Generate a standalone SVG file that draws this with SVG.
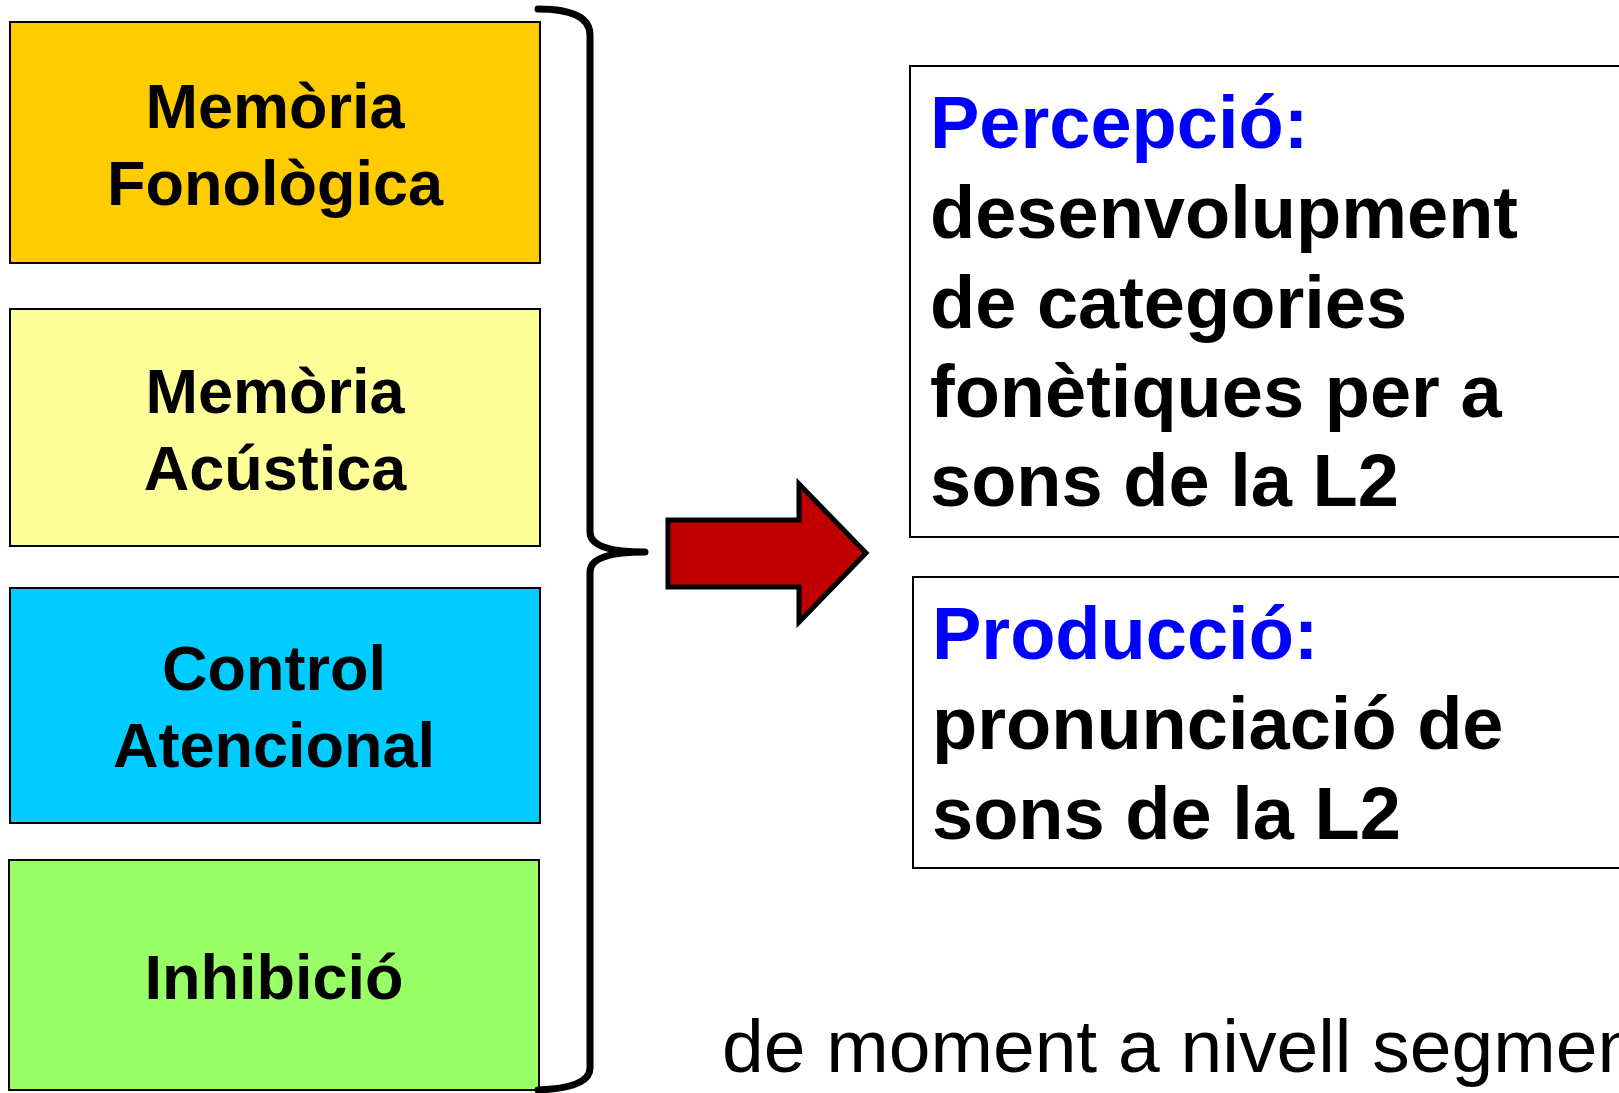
<svg xmlns="http://www.w3.org/2000/svg" width="1619" height="1093" viewBox="0 0 1619 1093">
<style>
.box{stroke:#000;stroke-width:2}
.lbl{font-family:"Liberation Sans",Arial,sans-serif;font-weight:bold;font-size:63px;fill:#000;text-anchor:middle}
.rt{font-family:"Liberation Sans",Arial,sans-serif;font-weight:bold;font-size:74px;fill:#000}
.hd{fill:#0000FF}
.note{font-family:"Liberation Sans",Arial,sans-serif;font-size:75px;fill:#000}
</style>
<rect width="1619" height="1093" fill="#fff"/>
<g id="memoria-fonologica">
<rect class="box" x="10" y="22" width="530" height="241" fill="#FFCC00"/>
<text class="lbl" x="275" y="128">Memòria</text>
<text class="lbl" x="275" y="205">Fonològica</text>
</g>
<g id="memoria-acustica">
<rect class="box" x="10" y="309" width="530" height="237" fill="#FFFF99"/>
<text class="lbl" x="275" y="413">Memòria</text>
<text class="lbl" x="275" y="490">Acústica</text>
</g>
<g id="control-atencional">
<rect class="box" x="10" y="588" width="530" height="235" fill="#00CCFF"/>
<text class="lbl" x="274" y="690">Control</text>
<text class="lbl" x="274" y="767">Atencional</text>
</g>
<g id="inhibicio">
<rect class="box" x="9" y="860" width="530" height="230" fill="#99FF66"/>
<text class="lbl" x="274" y="999">Inhibició</text>
</g>
<g id="connectors">
<path d="M538,9 Q590,9 590,35 L590,532 Q590,552 645,552 Q590,552 590,572 L590,1068 Q590,1088 538,1090" fill="none" stroke="#000" stroke-width="7" stroke-linecap="round" stroke-linejoin="round"/>
<polygon points="668,520 799,520 799,484 866,553 799,622 799,587 668,587" fill="#C00000" stroke="#000" stroke-width="5"/>
</g>
<g id="percepcio">
<rect class="box" x="910" y="66" width="740" height="471" fill="#fff"/>
<text class="rt hd" x="930" y="148">Percepció:</text>
<text class="rt" x="930" y="238">desenvolupment</text>
<text class="rt" x="930" y="328">de categories</text>
<text class="rt" x="930" y="417">fonètiques per a</text>
<text class="rt" x="930" y="506">sons de la L2</text>
</g>
<g id="produccio">
<rect class="box" x="913" y="577" width="740" height="291" fill="#fff"/>
<text class="rt hd" x="932" y="659">Producció:</text>
<text class="rt" x="932" y="749">pronunciació de</text>
<text class="rt" x="932" y="839">sons de la L2</text>
</g>
<g id="nota">
<text class="note" x="722" y="1072">de moment a nivell segmen</text>
</g>
</svg>
